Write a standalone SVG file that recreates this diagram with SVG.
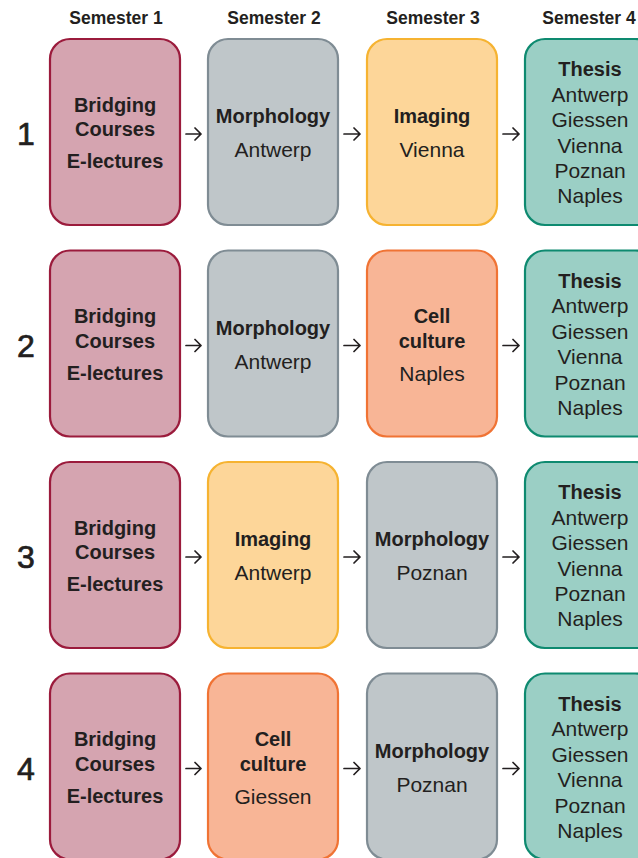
<svg xmlns="http://www.w3.org/2000/svg" width="638" height="858" viewBox="0 0 638 858">
<style>
text{font-family:"Liberation Sans",Arial,sans-serif;fill:#231f20;text-anchor:middle}
.hd{font-size:17.5px;font-weight:bold}
.num{font-size:32px;stroke:#231f20;stroke-width:0.7}
.bd{font-size:20px;font-weight:bold}
.rg{font-size:21px}
rect{stroke-width:2.2}
.pink{fill:#d5a4b0;stroke:#9b1b3c}
.gray{fill:#bfc6c9;stroke:#7f8c94}
.yel{fill:#fdd699;stroke:#f6b331}
.ora{fill:#f8b596;stroke:#f07334}
.teal{fill:#9bcfc5;stroke:#0e8a70}
.arr{fill:none;stroke:#231f20;stroke-width:1.7;stroke-linecap:round;stroke-linejoin:round}
</style>
<defs>
<g id="bridging">
<rect class="pink" width="130" height="186" rx="20"/>
<text class="bd" x="65" y="72.5">Bridging</text>
<text class="bd" x="65" y="97">Courses</text>
<text class="bd" x="65" y="129">E-lectures</text>
</g>
<g id="thesis">
<rect class="teal" width="130" height="186" rx="20"/>
<text class="bd" x="65" y="37">Thesis</text>
<text class="rg" x="65" y="62.5">Antwerp</text>
<text class="rg" x="65" y="88">Giessen</text>
<text class="rg" x="65" y="113.5">Vienna</text>
<text class="rg" x="65" y="139">Poznan</text>
<text class="rg" x="65" y="164">Naples</text>
</g>
</defs>
<g id="headers">
<text class="hd" x="116" y="24">Semester 1</text>
<text class="hd" x="274" y="24">Semester 2</text>
<text class="hd" x="433" y="24">Semester 3</text>
<text class="hd" x="589" y="24">Semester 4</text>
</g>
<g id="rownums">
<text class="num" x="26" y="145">1</text>
<text class="num" x="26" y="356.5">2</text>
<text class="num" x="26" y="568">3</text>
<text class="num" x="26" y="779.5">4</text>
</g>
<!-- Row 1 -->
<g id="r1s1" transform="translate(50,39)"><use href="#bridging"/></g>
<g id="r1s2" transform="translate(208,39)"><rect class="gray" width="130" height="186" rx="20"/><text class="bd" x="65" y="84">Morphology</text><text class="rg" x="65" y="118">Antwerp</text></g>
<g id="r1s3" transform="translate(367,39)"><rect class="yel" width="130" height="186" rx="20"/><text class="bd" x="65" y="84">Imaging</text><text class="rg" x="65" y="118">Vienna</text></g>
<g id="r1s4" transform="translate(525,39)"><use href="#thesis"/></g>
<!-- Row 2 -->
<g id="r2s1" transform="translate(50,250.5)"><use href="#bridging"/></g>
<g id="r2s2" transform="translate(208,250.5)"><rect class="gray" width="130" height="186" rx="20"/><text class="bd" x="65" y="84">Morphology</text><text class="rg" x="65" y="118">Antwerp</text></g>
<g id="r2s3" transform="translate(367,250.5)"><rect class="ora" width="130" height="186" rx="20"/><text class="bd" x="65" y="72">Cell</text><text class="bd" x="65" y="97">culture</text><text class="rg" x="65" y="130">Naples</text></g>
<g id="r2s4" transform="translate(525,250.5)"><use href="#thesis"/></g>
<!-- Row 3 -->
<g id="r3s1" transform="translate(50,462)"><use href="#bridging"/></g>
<g id="r3s2" transform="translate(208,462)"><rect class="yel" width="130" height="186" rx="20"/><text class="bd" x="65" y="84">Imaging</text><text class="rg" x="65" y="118">Antwerp</text></g>
<g id="r3s3" transform="translate(367,462)"><rect class="gray" width="130" height="186" rx="20"/><text class="bd" x="65" y="84">Morphology</text><text class="rg" x="65" y="118">Poznan</text></g>
<g id="r3s4" transform="translate(525,462)"><use href="#thesis"/></g>
<!-- Row 4 -->
<g id="r4s1" transform="translate(50,673.5)"><use href="#bridging"/></g>
<g id="r4s2" transform="translate(208,673.5)"><rect class="ora" width="130" height="186" rx="20"/><text class="bd" x="65" y="72">Cell</text><text class="bd" x="65" y="97">culture</text><text class="rg" x="65" y="130">Giessen</text></g>
<g id="r4s3" transform="translate(367,673.5)"><rect class="gray" width="130" height="186" rx="20"/><text class="bd" x="65" y="84">Morphology</text><text class="rg" x="65" y="118">Poznan</text></g>
<g id="r4s4" transform="translate(525,673.5)"><use href="#thesis"/></g>
<g id="connectors" class="arr">
<path d="M186,134h15m-6,-6l6,6l-6,6 M344,134h16m-6,-6l6,6l-6,6 M503,134h16m-6,-6l6,6l-6,6"/>
<path d="M186,345.5h15m-6,-6l6,6l-6,6 M344,345.5h16m-6,-6l6,6l-6,6 M503,345.5h16m-6,-6l6,6l-6,6"/>
<path d="M186,557h15m-6,-6l6,6l-6,6 M344,557h16m-6,-6l6,6l-6,6 M503,557h16m-6,-6l6,6l-6,6"/>
<path d="M186,768.5h15m-6,-6l6,6l-6,6 M344,768.5h16m-6,-6l6,6l-6,6 M503,768.5h16m-6,-6l6,6l-6,6"/>
</g>
</svg>
